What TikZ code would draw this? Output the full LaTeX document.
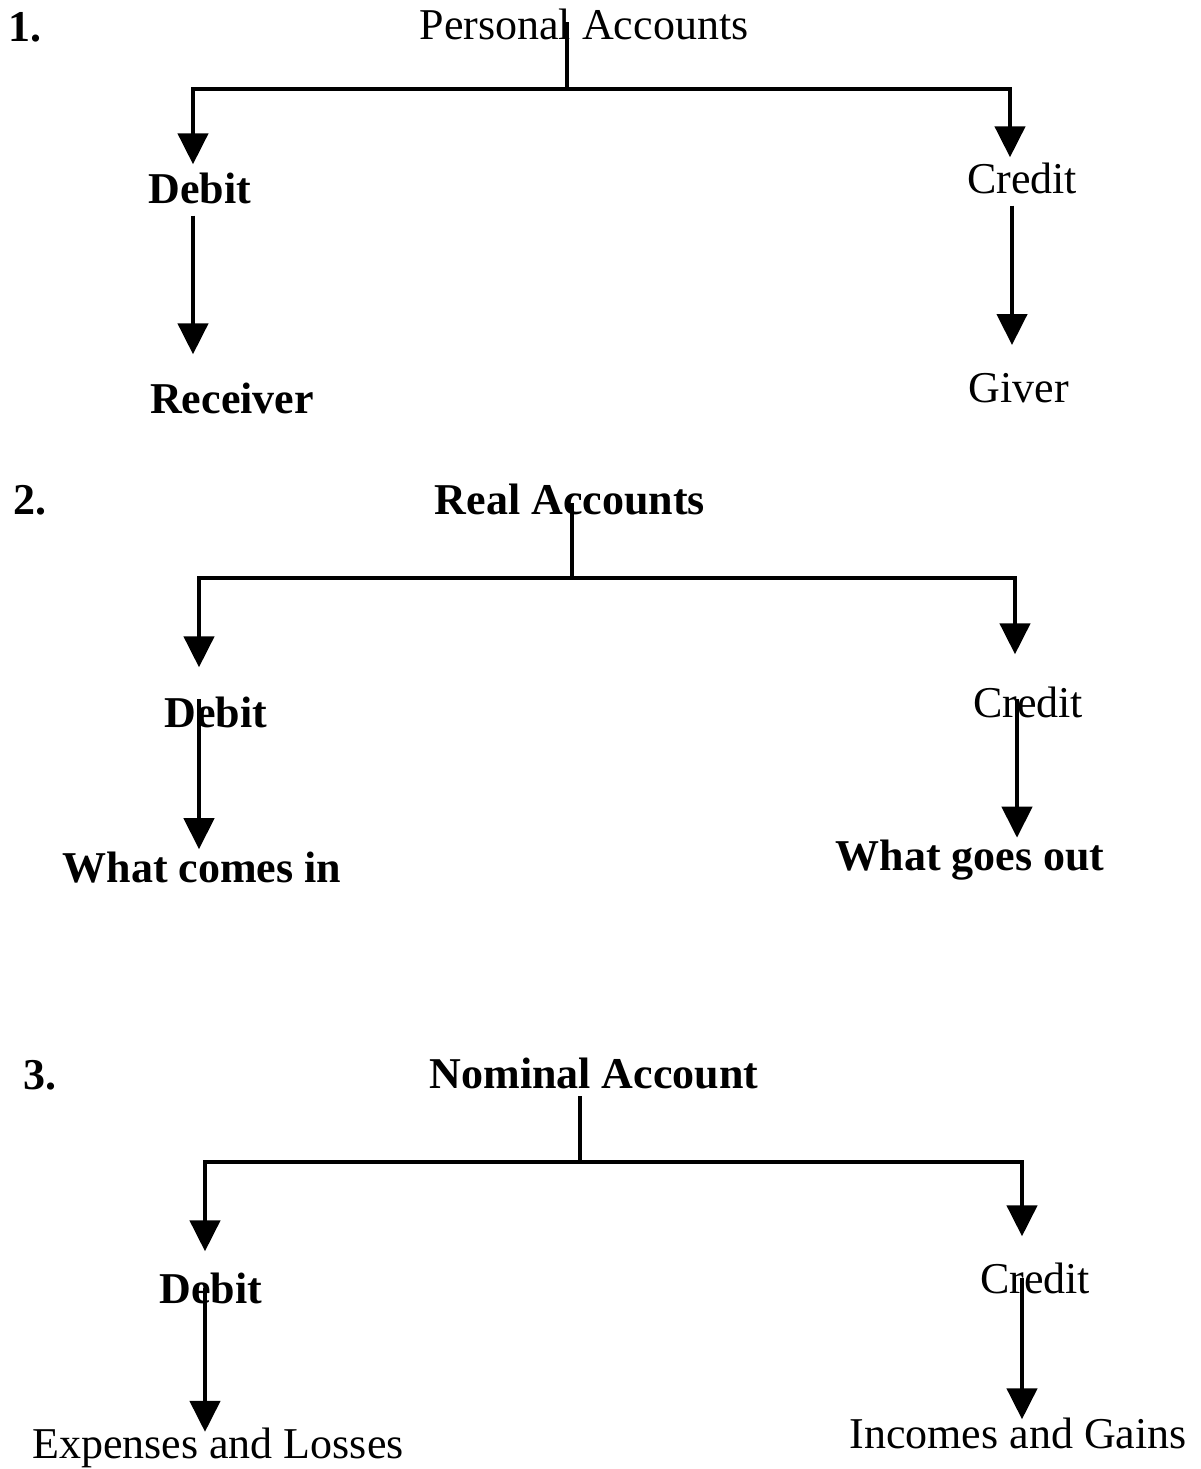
\documentclass[tikz,border=0pt]{standalone}
\usepackage{fontspec}
\setmainfont{Liberation Serif}
\usetikzlibrary{arrows.meta,calc}
\begin{document}
\begin{tikzpicture}[x=1pt,y=-1pt,
  lbl/.style={inner sep=0pt, font=\fontsize{44}{50}\selectfont},
  blbl/.style={inner sep=0pt, font=\fontsize{44}{50}\selectfont\bfseries},
  ln/.style={line width=4.5pt, line cap=rect},
  arr/.style={line width=4.5pt, -{Triangle[width=30pt,length=31pt]}},
]
\useasboundingbox (0,0) rectangle (1201,1469);
% ---------- 1 ----------
\node[blbl] (n1) at (25,27) {1.};
\node[lbl]  (t1) at (584,24) {Personal Accounts};
\node[blbl] (d1) at (200,188) {Debit};
\node[blbl] (r1) at (232,398) {Receiver};
\node[lbl]  (c1) at (1022,178) {Credit};
\node[lbl]  (g1) at (1019,388) {Giver};
\coordinate (s1) at (567,89);
\coordinate (h1L) at (193,89);
\coordinate (h1R) at (1010,89);
\draw[ln] (t1.center -| s1) -- (s1);
\draw[ln] (h1L) -- (h1R);
\draw[arr] (h1L) -- ($(d1.north -| h1L)+(0,-8)$);
\draw[arr] ($(d1.south -| h1L)+(0,12)$) -- ($(r1.north -| h1L)+(0,-28)$);
\draw[arr] (h1R) -- ($(c1.north -| h1R)+(0,-5)$);
\coordinate (v1R) at (1012,89);
\draw[arr] ($(c1.south -| v1R)+(0,12)$) -- ($(g1.north -| v1R)+(0,-28)$);
% ---------- 2 ----------
\node[blbl] (n2) at (30,500) {2.};
\node[blbl] (t2) at (570,499) {Real Accounts};
\node[blbl] (d2) at (216,712) {Debit};
\node[blbl] (w2) at (202,868) {What comes in};
\node[lbl]  (c2) at (1028,702) {Credit};
\node[blbl] (o2) at (970,860) {What goes out};
\coordinate (s2) at (572,578);
\coordinate (h2L) at (199,578);
\coordinate (h2R) at (1015,578);
\draw[ln] ($(t2.center -| s2)+(0,6)$) -- (s2);
\draw[ln] (h2L) -- (h2R);
\draw[arr] (h2L) -- ($(d2.north -| h2L)+(0,-29)$);
\draw[arr] ($(d2.north -| h2L)+(0,3)$) -- ($(w2.north -| h2L)+(0,-3)$);
\draw[arr] (h2R) -- ($(c2.north -| h2R)+(0,-32)$);
\coordinate (v2R) at (1017,578);
\draw[arr] ($(c2.north -| v2R)+(0,13)$) -- ($(o2.north -| v2R)+(0,-2)$);
% ---------- 3 ----------
\node[blbl] (n3) at (40,1075) {3.};
\node[blbl] (t3) at (594,1073) {Nominal Account};
\node[blbl] (d3) at (211,1288) {Debit};
\node[lbl]  (e3) at (218,1448) {Expenses and Losses};
\node[lbl]  (c3) at (1035,1278) {Credit};
\node[lbl]  (i3) at (1018,1433) {Incomes and Gains};
\coordinate (s3) at (580,1162);
\coordinate (h3L) at (205,1162);
\coordinate (h3R) at (1022,1162);
\draw[ln] ($(t3.south -| s3)+(0,10)$) -- (s3);
\draw[ln] (h3L) -- (h3R);
\draw[arr] (h3L) -- ($(d3.north -| h3L)+(0,-21)$);
\draw[arr] (d3.center -| h3L) -- ($(e3.north -| h3L)+(0,4)$);
\draw[arr] (h3R) -- ($(c3.north -| h3R)+(0,-26)$);
\draw[arr] (c3.center -| h3R) -- ($(i3.north -| h3R)+(0,2)$);
\end{tikzpicture}
\end{document}
